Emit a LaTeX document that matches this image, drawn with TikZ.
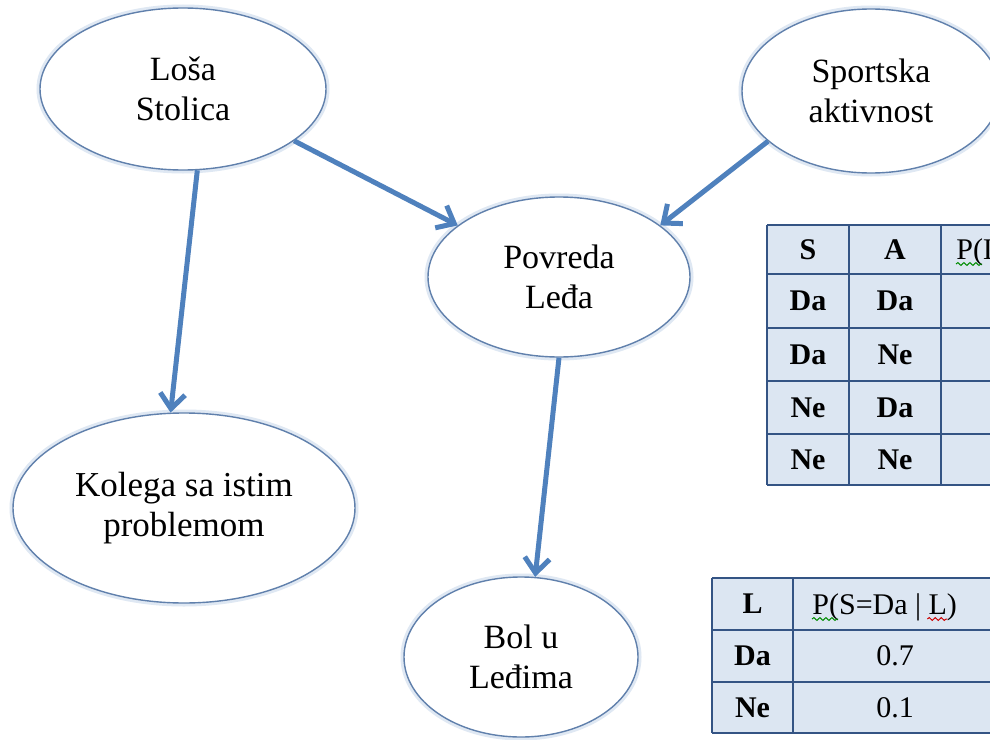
\documentclass[tikz,border=0pt]{standalone}
\usepackage{fontspec}
\setmainfont{Liberation Serif}
\usetikzlibrary{shapes.geometric,arrows.meta,decorations.pathmorphing}
\definecolor{arrowblue}{RGB}{79,129,189}
\definecolor{rimblue}{RGB}{96,128,172}
\definecolor{cellblue}{RGB}{220,230,242}
\definecolor{gridblue}{RGB}{52,84,132}
\begin{document}
\begin{tikzpicture}[x=0.5pt,y=-0.5pt,>={Straight Barb[length=7.5pt,width=12.5pt]},
  var/.style={ellipse,draw=rimblue,line width=0.7pt,fill=white,inner sep=0pt,align=center,
    font=\fontsize{17}{20}\selectfont,preaction={draw=arrowblue!18,line width=3.5pt}},
  link/.style={->,arrowblue,line width=2.5pt},
  grid/.style={gridblue,line width=1pt},
  cell/.style={inner sep=0pt,font=\fontsize{15}{18}\selectfont},
  spell/.style={decorate,decoration={snake,amplitude=0.7pt,segment length=3pt},line width=0.5pt}]
  \useasboundingbox (0,0) rectangle (990,739);
  \clip (0,0) rectangle (990,739);
  \fill[white] (0,0) rectangle (990,739);
  \node[var,minimum width=143pt,minimum height=81pt] (stol) at (183,89) {Loša\\Stolica};
  \node[var,minimum width=129pt,minimum height=82pt] (sport) at (871,91) {Sportska\\aktivnost};
  \node[var,minimum width=131pt,minimum height=80pt] (povr) at (559,277) {Povreda\\Leđa};
  \node[var,minimum width=171pt,minimum height=95pt,font=\fontsize{17.5}{20}\selectfont] (kol) at (184,508) {Kolega sa istim\\problemom};
  \node[var,minimum width=117pt,minimum height=80pt] (bol) at (521,657) {Bol u\\Leđima};
  \draw[link] (stol.-80) -- (kol.98);
  \draw[link] (stol.-25) -- (povr.153);
  \draw[link] (sport.-154) -- (povr.27);
  \draw[link] (povr.-90) -- (bol.80);
  % tablica za P(L | S, A)
  \fill[cellblue] (767,225) rectangle (1040,485);
  \foreach \x in {767,849,941} \draw[grid] (\x,225) -- (\x,485);
  \foreach \y in {225,274,328,381,434,485} \draw[grid] (767,\y) -- (1040,\y);
  \node[cell,font=\fontsize{15}{18}\bfseries] (hs) at (808,249.5) {S};
  \node[cell,font=\fontsize{15}{18}\bfseries] (ha) at (895,249.5) {A};
  \node[cell,anchor=base west] (hp) at (956,259) {P(L};
  \draw[spell,green!55!black] ([yshift=-2.5pt]hp.base west) -- ++(26,0);
  \foreach \s/\a/\y [count=\i] in {Da/Da/301,Da/Ne/354.5,Ne/Da/407.5,Ne/Ne/459.5}{
    \node[cell,font=\fontsize{15}{18}\bfseries] (s\i) at (808,\y) {\s};
    \node[cell,font=\fontsize{15}{18}\bfseries] (a\i) at (895,\y) {\a};}
  % tablica za P(S | L)
  \fill[cellblue] (712,578) rectangle (1040,733);
  \foreach \x in {712,793} \draw[grid] (\x,578) -- (\x,733);
  \foreach \y in {578,630,682,733} \draw[grid] (712,\y) -- (1040,\y);
  \node[cell,font=\fontsize{15}{18}\bfseries] (hl) at (752.5,604) {L};
  \node[cell,anchor=base west] (hq) at (812,614) {P(S=Da | L)};
  \draw[spell,green!55!black] ([yshift=-2.5pt]hq.base west) -- ++(26,0);
  \draw[spell,red!80!black] ([xshift=-15pt,yshift=-2.5pt]hq.base east) -- ++(20,0);
  \foreach \l/\v/\y [count=\i] in {Da/0.7/656,Ne/0.1/707.5}{
    \node[cell,font=\fontsize{15}{18}\bfseries] (l\i) at (752.5,\y) {\l};
    \node[cell] (v\i) at (895,\y) {\v};}
\end{tikzpicture}
\end{document}
